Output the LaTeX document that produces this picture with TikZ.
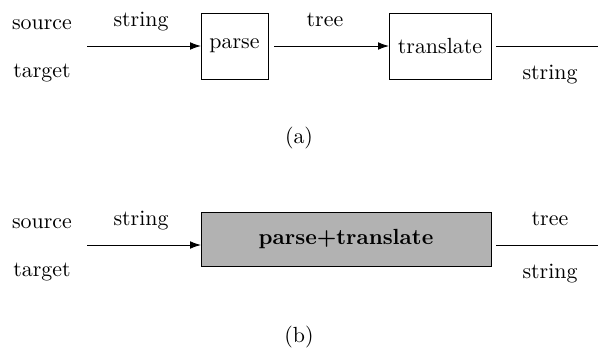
\documentclass[tikz,border=0pt]{standalone}
\usetikzlibrary{arrows.meta}
\begin{document}
\begin{tikzpicture}[x=0.4566pt, y=-0.4566pt,
  lbl/.style={inner sep=0pt, anchor=base},
  proc/.style={draw, line width=0.4pt, inner sep=0pt, outer sep=0pt},
  conn/.style={line width=0.4pt},
  arr/.style={conn, -{Latex[length=5pt,width=3.5pt]}}]
\useasboundingbox (0,0) rectangle (598,351);
% (a)
\node[lbl] (srcA) at (42,29) {source};
\node[lbl] (tgtA) at (42,77) {target};
\node[lbl] (strA) at (141,26) {string};
\node[proc, minimum width=67*0.4566pt, minimum height=66*0.4566pt] (parse) at (234.5,46) {parse};
\node[lbl] (treeA) at (325,26) {tree};
\node[proc, minimum width=102*0.4566pt, minimum height=66*0.4566pt] (transl) at (440,46) {translate};
\node[lbl] (strA2) at (550,79) {string};
\coordinate (inA) at (87,46);
\coordinate (outA) at (598,46);
\draw[arr] (inA) -- (parse.west);
\draw[arr] ([xshift=6*0.4566pt]parse.east) -- (transl.west);
\draw[conn] ([xshift=5*0.4566pt]transl.east) -- (outA);
\node[lbl] (capA) at (299,143) {(a)};
% (b)
\node[lbl] (srcB) at (42,228) {source};
\node[lbl] (tgtB) at (42,276) {target};
\node[lbl] (strB) at (141,225) {string};
\node[proc, fill=black!30, minimum width=290*0.4566pt, minimum height=54*0.4566pt, font=\bfseries] (pt) at (346,239) {parse+translate};
\node[lbl] (treeB) at (550,225) {tree};
\node[lbl] (strB2) at (550,278) {string};
\coordinate (inB) at (87,245);
\coordinate (outB) at (598,245);
\draw[arr] (inB) -- (pt.west |- inB);
\draw[conn] ([xshift=5*0.4566pt]pt.east |- outB) -- (outB);
\node[lbl] (capB) at (299,342) {(b)};
\end{tikzpicture}
\end{document}
